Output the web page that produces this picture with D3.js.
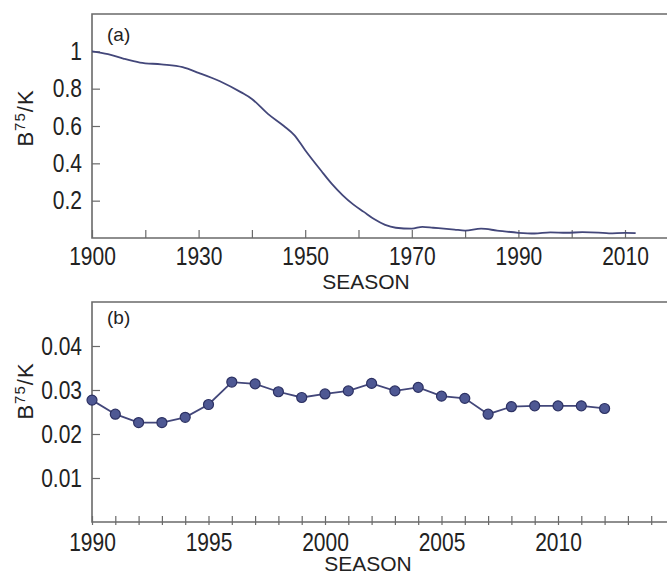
<!DOCTYPE html>
<html>
<head>
<meta charset="utf-8">
<script src="https://cdn.jsdelivr.net/npm/d3@7"></script>
<style>
  body { margin: 0; background: #fff; }
  svg { display: block; font-family: "Liberation Sans", Arial, sans-serif; }
</style>
</head>
<body>
<script>
'use strict';

// panel (a): long-term depletion curve
const yearsA = [1910, 1913, 1916, 1919, 1923, 1927, 1930, 1934, 1938, 1940, 1943, 1946, 1948, 1950,
  1953, 1955, 1957, 1959, 1961, 1963, 1965, 1967, 1970, 1972, 1974, 1976, 1978, 1980, 1983, 1986, 1990,
  1993, 1996, 1999, 2002, 2005, 2007, 2010, 2012];
const valuesA = [1.0, 0.985, 0.96, 0.94, 0.93, 0.915, 0.885, 0.84, 0.78, 0.745, 0.665, 0.6, 0.55, 0.47,
  0.36, 0.29, 0.23, 0.18, 0.14, 0.1, 0.07, 0.055, 0.05, 0.06, 0.055, 0.05, 0.045, 0.04, 0.05, 0.04, 0.028,
  0.024, 0.03, 0.028, 0.031, 0.029, 0.025, 0.027, 0.026];
const xTickValuesA = [1910, 1930, 1950, 1970, 1990, 2010];
const xTickLabelsA = ["1900", "1930", "1950", "1970", "1990", "2010"];
const xMinorA = [1920, 1940, 1960, 1980, 2000];
const yTicksA = [0.2, 0.4, 0.6, 0.8, 1];

// panel (b): recent seasons
const yearsB = d3.range(1990, 2013);
const valuesB = [0.0277, 0.0245, 0.0226, 0.0226, 0.0238, 0.0267, 0.0318, 0.0314, 0.0296, 0.0283, 0.0291,
  0.0298, 0.0315, 0.0298, 0.0306, 0.0286, 0.0281, 0.0245, 0.0262, 0.0264, 0.0264, 0.0264, 0.0258];
const xTicksB = [1990, 1995, 2000, 2005, 2010];
const yTicksB = [0.01, 0.02, 0.03, 0.04];

const W = 667, H = 574;
const left = 92;
const textCol = "#222";
const frameCol = "#6a6a6a";
const lineCol = "#43477a";

const svg = d3.select("body").append("svg")
  .attr("width", W).attr("height", H);

function drawFrame(g, top, bottom) {
  // top border + left + bottom, right side runs off the image
  g.append("path")
    .attr("d", `M${W + 5},${top}H${left}V${bottom}H${W + 5}`)
    .attr("fill", "none")
    .attr("stroke", frameCol)
    .attr("stroke-width", 1.6);
}

// tick labels in the source look tall and narrow, so stretch them a bit
function styleAxis(ax) {
  ax.select(".domain").remove();
  ax.selectAll(".tick line").attr("stroke", frameCol).attr("stroke-width", 1.2);
  ax.selectAll(".tick text")
    .attr("fill", textCol)
    .attr("transform", "scale(1,1.2)")
    .style("font-size", "21px");
}

function yTitle(y) {
  const t = svg.append("text")
    .attr("transform", `translate(33,${y})rotate(-90)`)
    .attr("text-anchor", "middle")
    .attr("fill", textCol)
    .style("font-size", "22px")
    .style("letter-spacing", "1px");
  t.append("tspan").text("B");
  t.append("tspan").attr("dy", -8).style("font-size", "15px").text("75");
  t.append("tspan").attr("dy", 8).text("/K");
}

// ---------- panel (a) ----------
const topA = 14, botA = 238;
const xA = d3.scaleLinear().domain([1910, 2020]).range([left, left + 110 * 5.33]);
const yA = d3.scaleLinear().domain([0, 1.2]).range([botA, topA]);

const gA = svg.append("g");
drawFrame(gA, topA, botA);

const axAx = gA.append("g").attr("transform", `translate(0,${botA})`)
  .call(d3.axisBottom(xA).tickValues(xTickValuesA.concat(xMinorA))
    .tickFormat(d => { const i = xTickValuesA.indexOf(d); return i < 0 ? "" : xTickLabelsA[i]; })
    .tickSizeInner(-8).tickSizeOuter(0).tickPadding(8));
styleAxis(axAx);

const ayAx = gA.append("g").attr("transform", `translate(${left},0)`)
  .call(d3.axisLeft(yA).tickValues(yTicksA).tickFormat(d3.format("")).tickSizeInner(-8).tickSizeOuter(0).tickPadding(10));
styleAxis(ayAx);

gA.append("path")
  .datum(yearsA.map((y, i) => [y, valuesA[i]]))
  .attr("fill", "none")
  .attr("stroke", lineCol)
  .attr("stroke-width", 1.8)
  .attr("d", d3.line().x(d => xA(d[0])).y(d => yA(d[1])).curve(d3.curveMonotoneX));

gA.append("text").attr("x", 107).attr("y", 41).attr("fill", textCol)
  .style("font-size", "19px").text("(a)");
gA.append("text").attr("x", 366).attr("y", 289).attr("text-anchor", "middle")
  .attr("fill", textCol).style("font-size", "21px").text("SEASON");
yTitle(118);

// ---------- panel (b) ----------
const topB = 302, botB = 522;
const xB = d3.scaleLinear().domain([1990, 2015]).range([left, left + 25 * 23.3]);
const yB = d3.scaleLinear().domain([0, 0.05]).range([botB, topB]);

const gB = svg.append("g");
drawFrame(gB, topB, botB);

const bxAx = gB.append("g").attr("transform", `translate(0,${botB})`)
  .call(d3.axisBottom(xB).tickValues(d3.range(1990, 2016))
    .tickFormat(d => xTicksB.includes(d) ? d : "")
    .tickSizeInner(-6).tickSizeOuter(0).tickPadding(9));
styleAxis(bxAx);
bxAx.selectAll(".tick line").attr("y1", 3);

const byAx = gB.append("g").attr("transform", `translate(${left},0)`)
  .call(d3.axisLeft(yB).tickValues(yTicksB).tickFormat(d3.format(".2f")).tickSizeInner(-8).tickSizeOuter(0).tickPadding(10));
styleAxis(byAx);

const ptsB = yearsB.map((y, i) => [y, valuesB[i]]);
gB.append("path")
  .datum(ptsB)
  .attr("fill", "none")
  .attr("stroke", lineCol)
  .attr("stroke-width", 1.8)
  .attr("d", d3.line().x(d => xB(d[0])).y(d => yB(d[1])));

gB.selectAll("circle.pt")
  .data(ptsB)
  .enter()
  .append("circle")
  .attr("class", "pt")
  .attr("cx", d => xB(d[0]))
  .attr("cy", d => yB(d[1]))
  .attr("r", 5)
  .attr("fill", "#4e5893")
  .attr("stroke", "#2c3163")
  .attr("stroke-width", 1.2);

gB.append("text").attr("x", 107).attr("y", 324).attr("fill", textCol)
  .style("font-size", "19px").text("(b)");
gB.append("text").attr("x", 368).attr("y", 571).attr("text-anchor", "middle")
  .attr("fill", textCol).style("font-size", "21px").text("SEASON");
yTitle(391);
</script>
</body>
</html>
